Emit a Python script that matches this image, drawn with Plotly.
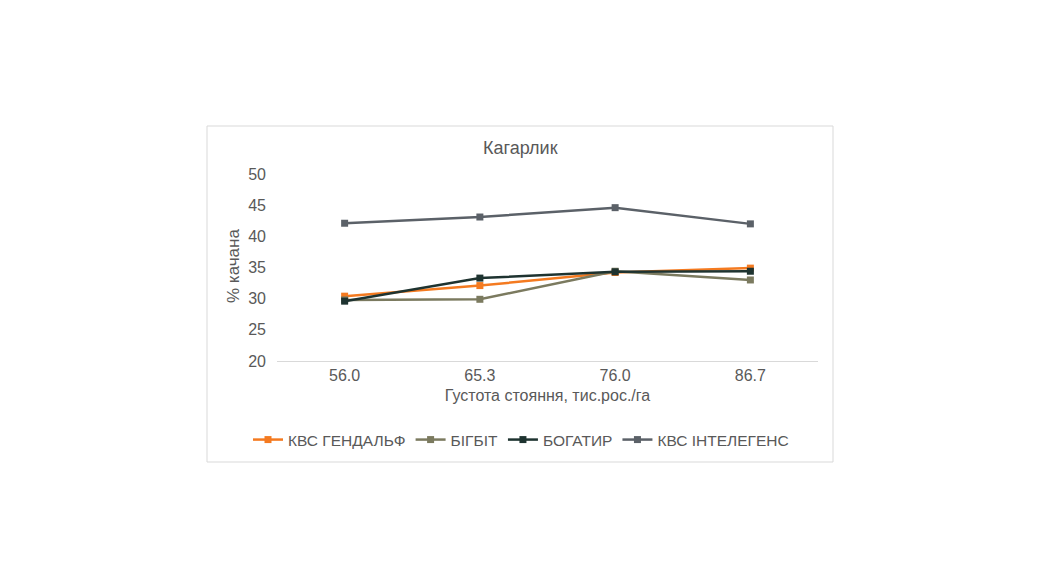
import plotly.graph_objects as go

categories = ["56.0", "65.3", "76.0", "86.7"]
series_names = ["КВС ГЕНДАЛЬФ", "БІГБІТ", "БОГАТИР", "КВС ІНТЕЛЕГЕНС"]
gendalf = [30.4, 32.1, 34.2, 34.9]
bigbit = [29.8, 29.9, 34.4, 33.0]
bogatyr = [29.6, 33.3, 34.3, 34.4]
intelligence = [42.1, 43.1, 44.6, 42.0]
colors = ["#F47A20", "#7B7A5F", "#1E3330", "#5B6168"]

FONT = "Liberation Sans, Arial, sans-serif"
TXT = "#595959"

fig = go.Figure()
for name, vals, c in zip(series_names, [gendalf, bigbit, bogatyr, intelligence], colors):
    fig.add_trace(go.Scatter(
        x=categories, y=vals, name=name, mode="lines+markers",
        line=dict(color=c, width=2.5),
        marker=dict(symbol="square", size=7, color=c),
    ))

OFF = 8  # page body margin
W, H = 1053 - 2 * OFF, 588 - 2 * OFF
L, R, T, B = 277, 818, 174, 361  # screen coords of plot area
pw, ph = R - L, B - T

def px(x):
    return (x - L) / pw

def py(y):
    return (B - y) / ph

fig.update_layout(
    width=W, height=H,
    margin=dict(l=L - OFF, r=W - (R - OFF), t=T - OFF, b=H - (B - OFF), autoexpand=False),
    paper_bgcolor="white", plot_bgcolor="white",
    font=dict(family=FONT, color=TXT, size=15),
    showlegend=True,
    legend=dict(orientation="h", xref="container", x=(521 - OFF) / W, xanchor="center",
                y=py(440), yanchor="middle",
                font=dict(size=15.5, color=TXT, family=FONT), tracegroupgap=0),
    xaxis=dict(type="category", range=[-0.5, 3.5], showgrid=False, showline=True,
               linecolor="#D9D9D9", linewidth=1, ticks="", tickfont=dict(size=16, color=TXT),
               title=dict(text="Густота стояння, тис.рос./га", font=dict(size=16, color=TXT), standoff=6),
               fixedrange=True),
    yaxis=dict(range=[20, 50], dtick=5, showgrid=False, zeroline=False, showline=False,
               ticks="", tickfont=dict(size=16, color=TXT), ticklabelstandoff=10,
               fixedrange=True),
    shapes=[dict(type="rect", xref="paper", yref="paper",
                 x0=px(207), x1=px(833), y0=py(462), y1=py(126),
                 line=dict(color="#D9D9D9", width=1), fillcolor="rgba(0,0,0,0)", layer="below")],
    annotations=[
        dict(text="Кагарлик", xref="paper", yref="paper", x=px(520), y=py(148),
             xanchor="center", yanchor="middle", showarrow=False,
             font=dict(size=18, color=TXT, family=FONT)),
        dict(text="% качана", xref="paper", yref="paper", x=px(233), y=py(266),
             xanchor="center", yanchor="middle", showarrow=False, textangle=-90,
             font=dict(size=17, color=TXT, family=FONT)),
    ],
)

fig.write_html("out.html")
